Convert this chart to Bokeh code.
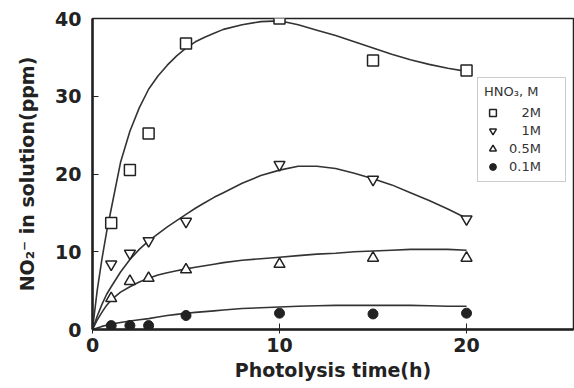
from bokeh.plotting import figure
from bokeh.models import Range1d, FixedTicker, Legend, LegendItem
from bokeh.embed import file_html
from bokeh.resources import INLINE

# measured data points
time_h = [1, 2, 3, 5, 10, 15, 20]
no2_2M = [13.7, 20.5, 25.2, 36.8, 40.0, 34.6, 33.3]
no2_1M = [8.4, 9.8, 11.4, 13.9, 21.2, 19.3, 14.2]
no2_05M = [4.0, 6.2, 6.6, 7.7, 8.4, 9.2, 9.2]
no2_01M = [0.5, 0.5, 0.5, 1.8, 2.1, 2.0, 2.1]

# fitted curves
fit_t = [0, 0.25, 0.5, 0.75, 1, 1.5, 2, 2.5, 3, 3.5, 4, 4.5, 5, 5.5, 6, 6.5, 7, 8, 9, 10,
         11, 12, 13, 14, 15, 16, 17, 18, 19, 20]
fit_2M = [0, 5, 9, 12.5, 15.5, 21.5, 25.5, 28.5, 30.9, 32.6, 34.0, 35.2, 36.2, 37.0, 37.6, 38.1,
          38.6, 39.2, 39.6, 39.7,
          39.2, 38.5, 37.8, 37.0, 36.2, 35.4, 34.7, 34.1, 33.6, 33.2]
fit_1M = [0, 1.7, 3.2, 4.5, 5.5, 7.4, 9.0, 10.3, 11.4, 12.3, 13.2, 14.0, 14.8, 15.6, 16.3, 17.0,
          17.6, 18.8, 19.8, 20.5,
          21.0, 21.0, 20.7, 20.1, 19.4, 18.6, 17.6, 16.6, 15.5, 14.3]
fit_05M = [0, 1.2, 2.2, 3.1, 3.8, 4.8, 5.5, 6.1, 6.6, 7.0, 7.3, 7.55, 7.8, 8.0, 8.2, 8.4,
           8.6, 8.9, 9.1, 9.3,
           9.5, 9.7, 9.8, 10.0, 10.1, 10.2, 10.3, 10.3, 10.3, 10.2]
fit_01M = [0, 0.2, 0.4, 0.55, 0.7, 0.9, 1.1, 1.25, 1.4, 1.6, 1.8, 1.95, 2.1, 2.2, 2.3, 2.4,
           2.5, 2.7, 2.8, 2.9,
           3.0, 3.05, 3.1, 3.1, 3.1, 3.1, 3.1, 3.05, 3.0, 3.0]

x_ticks = [0, 10, 20]
y_ticks = [0, 10, 20, 30, 40]
legend_title = "HNO\u2083, M"
labels = ["\u2007\u20082M", "\u2007\u20081M", "0.5M", "0.1M"]

INK = "#222222"
FONT = "DejaVu Sans"

p = figure(width=574, height=388, output_backend="svg", toolbar_location=None,
           x_range=Range1d(0, 25.72), y_range=Range1d(0, 40),
           min_border_left=92, min_border_right=1, min_border_top=18, min_border_bottom=59)
p.background_fill_color = "white"
p.border_fill_color = "white"
p.xgrid.visible = False
p.ygrid.visible = False
p.outline_line_color = INK
p.outline_line_width = 1.5

for ax in (p.xaxis[0], p.yaxis[0]):
    ax.axis_line_color = INK
    ax.axis_line_width = 2.5
    ax.major_tick_line_color = INK
    ax.major_tick_line_width = 1
    ax.minor_tick_line_color = None
    ax.major_label_text_font = FONT
    ax.major_label_text_font_style = "bold"
    ax.major_label_text_font_size = "19px"
    ax.major_label_text_color = INK
    ax.axis_label_text_font = FONT
    ax.axis_label_text_font_style = "bold"
    ax.axis_label_text_font_size = "19px"
    ax.axis_label_text_color = INK

p.xaxis.ticker = FixedTicker(ticks=x_ticks)
p.yaxis.ticker = FixedTicker(ticks=y_ticks)
p.xaxis.major_tick_in = 6
p.xaxis.major_tick_out = 4
p.yaxis.major_tick_in = 6
p.yaxis.major_tick_out = 0
p.xaxis.major_label_standoff = 4
p.yaxis.major_label_standoff = 11
p.xaxis.axis_label = "Photolysis time(h)"
p.yaxis.axis_label = "NO\u2082\u207b in solution(ppm)"
p.xaxis.axis_label_standoff = 4
p.yaxis.axis_label_standoff = 14

LINE = "#333333"
for fy in (fit_2M, fit_1M, fit_05M, fit_01M):
    p.line(fit_t, fy, line_color=LINE, line_width=1.6, line_join="round")

r2 = p.scatter(time_h, no2_2M, marker="square", size=11, fill_color="white",
               line_color=INK, line_width=1.5)
r1 = p.scatter(time_h, no2_1M, marker="inverted_triangle", size=11, fill_color="white",
               line_color=INK, line_width=1.5)
r05 = p.scatter(time_h, no2_05M, marker="triangle", size=11, fill_color="white",
                line_color=INK, line_width=1.5)
r01 = p.scatter(time_h, no2_01M, marker="circle", size=10, fill_color=INK,
                line_color=INK, line_width=1)

legend = Legend(items=[LegendItem(label=l, renderers=[r]) for l, r in
                       zip(labels, [r2, r1, r05, r01])],
                location=(385, 147), title=legend_title)
legend.title_text_font = FONT
legend.title_text_font_size = "13px"
legend.title_text_font_style = "normal"
legend.title_text_color = "#333333"
legend.title_standoff = 4
legend.label_text_font = FONT
legend.label_text_font_size = "13px"
legend.label_text_color = "#333333"
legend.label_height = 18
legend.glyph_height = 17
legend.glyph_width = 17
legend.label_standoff = 8
legend.label_width = 50
legend.spacing = 0
legend.padding = 6
legend.margin = 0
legend.border_line_color = "#999999"
legend.border_line_width = 1
legend.background_fill_alpha = 1
p.add_layout(legend, "center")

open("out.html", "w").write(file_html(p, INLINE))
